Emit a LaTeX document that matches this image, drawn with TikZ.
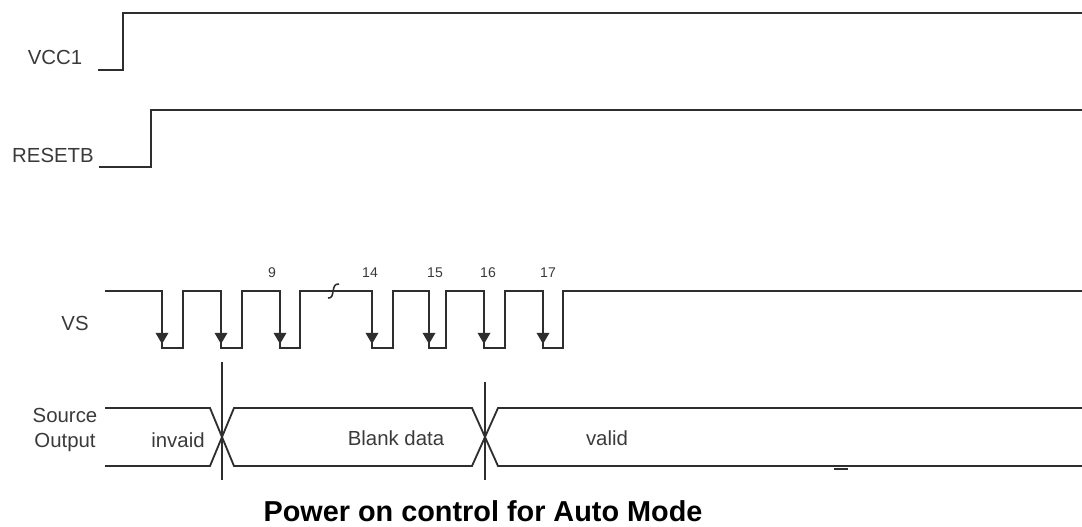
\documentclass[tikz,border=0pt]{standalone}
\usepackage{fontspec}
\setmainfont{Liberation Sans}
\usetikzlibrary{arrows.meta}
\definecolor{cwave}{HTML}{2E2E2E}
\definecolor{ctext}{HTML}{3A3A3A}
\tikzset{
  wave/.style={draw=cwave, line width=1.3pt, line join=miter},
  fallarrow/.style={-{Triangle[length=8pt, width=9pt]}, draw=cwave, line width=1.3pt},
  marker/.style={draw=cwave, line width=0.9pt},
  sig/.style={font=\fontsize{14.5}{17.8}\selectfont, text=ctext, align=center, inner sep=0pt},
  num/.style={font=\fontsize{10}{12}\selectfont, text=ctext, inner sep=0pt},
  title/.style={font=\fontsize{20.5}{24}\selectfont\bfseries, text=black, inner sep=0pt},
}

\begin{document}
\begin{tikzpicture}[x=0.025cm, y=-0.025cm]
\useasboundingbox (0,0) rectangle (1082,526);
% VCC1
\node[sig] (vcc) at (55,57) {VCC1};
\draw[wave] (98,70) -- (123,70) -- (123,13) -- (1082,13);
% RESETB
\node[sig] (rst) at (53,155) {RESETB};
\draw[wave] (99,167) -- (151,167) -- (151,110) -- (1082,110);
% VS
\node[sig] (vs) at (75,323) {VS};
\draw[wave] (105,291)
  \foreach \a/\b in {162/183, 221/242, 280/300, 372/393, 429/446, 484/505, 543/563} {
    -- (\a,291) -- (\a,348) -- (\b,348) -- (\b,291) }
  -- (1082,291);
\foreach \a in {162, 221, 280, 372, 429, 484, 543}
  \draw[fallarrow] (\a,300) -- (\a,344);
\draw[wave, line width=1.1pt] (328,298) .. controls (336,299) and (330,283) .. (339,284);
\foreach \n/\x in {9/272, 14/370, 15/435, 16/488, 17/548}
  \node[num] (cnt\n) at (\x,273) {\n};
% Source Output
\node[sig] (src) at (65,430) {Source\\Output};
\draw[wave] (105,408) -- (210,408) -- (234,466) -- (472,466) -- (498,408) -- (1082,408);
\draw[wave] (105,466) -- (210,466) -- (234,408) -- (472,408) -- (498,466) -- (1082,466);
\draw[marker] (222,362) -- (222,480);
\draw[marker] (485,382) -- (485,480);
\draw[wave, line width=1.8pt] (834,469) -- (848,469);
\node[sig] (inv) at (178,440) {invaid};
\node[sig] (blank) at (396,438) {Blank data};
\node[sig] (val) at (607,438) {valid};
% caption
\node[title] (cap) at (483,511) {Power on control for Auto Mode};
\end{tikzpicture}
\end{document}
